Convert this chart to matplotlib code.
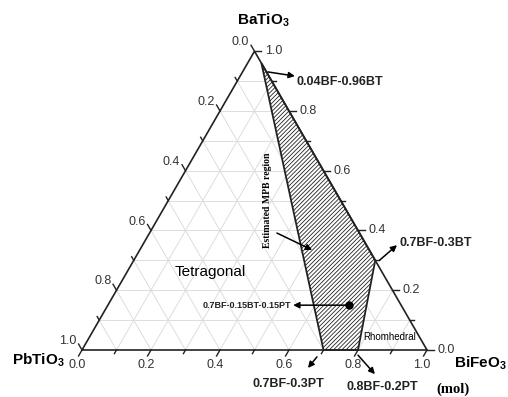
import numpy as np
import matplotlib
matplotlib.use("Agg")
import matplotlib.pyplot as plt
from matplotlib.patches import Polygon

plt.rcParams['font.family'] = ['Liberation Sans', 'DejaVu Sans']
plt.rcParams['mathtext.fontset'] = 'custom'
plt.rcParams['mathtext.rm'] = 'Liberation Sans'
plt.rcParams['mathtext.bf'] = 'Liberation Sans:bold'
plt.rcParams['hatch.linewidth'] = 0.6

# compositions as (BiFeO3, BaTiO3) mole fractions, PbTiO3 is the rest
mpb_bf = [0.04, 0.70, 0.80, 0.70]
mpb_bt = [0.96, 0.00, 0.00, 0.30]
dot_bf, dot_bt = 0.70, 0.15

tick_vals = [0.0, 0.2, 0.4, 0.6, 0.8, 1.0]
tick_labels = ['0.0', '0.2', '0.4', '0.6', '0.8', '1.0']

H = np.sqrt(3) / 2


# ternary (BF, BT) -> cartesian, PT corner at origin, BF corner at (1, 0)
def tern(bf, bt):
    bf = np.asarray(bf, float)
    bt = np.asarray(bt, float)
    return bf + bt / 2, bt * H


fig = plt.figure(figsize=(5.08, 3.97), dpi=100)
ax = fig.add_axes([0, 0, 1, 1])
ax.set_xlim(-82 / 345, (508 - 82) / 345)
ax.set_ylim(-47 / 345, 350 / 345)
ax.set_aspect('equal')
ax.axis('off')

# grid every 0.1
gc = '#dddddd'
for v in np.arange(0.1, 1.0, 0.1):
    # constant BaTiO3
    x, y = tern([0, 1 - v], [v, v])
    ax.plot(x, y, color=gc, lw=0.7, zorder=1)
    # constant BiFeO3
    x, y = tern([v, v], [0, 1 - v])
    ax.plot(x, y, color=gc, lw=0.7, zorder=1)
    # constant PbTiO3
    x, y = tern([1 - v, 0], [0, 1 - v])
    ax.plot(x, y, color=gc, lw=0.7, zorder=1)

# estimated MPB region
px, py = tern(mpb_bf, mpb_bt)
poly = Polygon(np.column_stack([px, py]), closed=True, facecolor='white',
               edgecolor='#222222', hatch='////////', lw=1.3, zorder=2)
ax.add_patch(poly)

# triangle frame
x, y = tern([0, 1, 0, 0], [0, 0, 1, 0])
ax.plot(x, y, color='#222222', lw=1.2, zorder=3, solid_joinstyle='miter')

# ticks and tick labels on the three sides
tc = '#333333'
bdir = np.array([-0.5, -H])
rdir = np.array([1.0, 0.0])
ldir = np.array([-0.5, H])
for i in range(11):
    v = i / 10
    L = 0.02 if i % 2 == 0 else 0.012
    # bottom: BiFeO3
    p = np.array(tern(v, 0))
    q = p + bdir * L
    ax.plot([p[0], q[0]], [p[1], q[1]], color='#222222', lw=1, zorder=3)
    # right: BaTiO3
    p = np.array(tern(1 - v, v))
    q = p + rdir * L
    ax.plot([p[0], q[0]], [p[1], q[1]], color='#222222', lw=1, zorder=3)
    # left: PbTiO3
    p = np.array(tern(0, 1 - v))
    q = p + ldir * L
    ax.plot([p[0], q[0]], [p[1], q[1]], color='#222222', lw=1, zorder=3)

for v, lab in zip(tick_vals, tick_labels):
    p = np.array(tern(v, 0)) + np.array([-0.015, -0.044])
    ax.text(p[0], p[1], lab, ha='center', va='center', fontsize=9, color=tc)
    p = np.array(tern(1 - v, v)) + rdir * 0.03
    ax.text(p[0], p[1], lab, ha='left', va='center', fontsize=9, color=tc)
    p = np.array(tern(0, 1 - v)) + ldir * 0.03
    ax.text(p[0], p[1], lab, ha='right', va='center', fontsize=9, color=tc)

# corner labels
ax.text(0.525, 0.957, r'BaTiO$_{\mathbf{3}}$', ha='center', va='center',
        fontsize=11, fontweight='bold')
ax.text(-0.203, -0.029, r'PbTiO$_{\mathbf{3}}$', ha='left', va='center',
        fontsize=11, fontweight='bold')
ax.text(1.078, -0.038, r'BiFeO$_{\mathbf{3}}$', ha='left', va='center',
        fontsize=11, fontweight='bold')
ax.text(1.075, -0.114, '(mol)', ha='center', va='center', fontsize=10.5,
        fontweight='bold', family='Liberation Serif')

# phase labels
ax.text(0.371, 0.226, 'Tetragonal', ha='center', va='center', fontsize=11)
ax.text(0.893, 0.038, 'Rhomhedral', ha='center', va='center', fontsize=7)
ax.text(0.539, 0.435, 'Estimated MPB region', ha='center', va='center',
        rotation=90, fontsize=7, fontweight='bold', family='Liberation Serif')

# composition point inside the MPB region
dx, dy = tern(dot_bf, dot_bt)
ax.plot(dx, dy, 'o', color='k', ms=5, zorder=4)

ap = dict(arrowstyle='-|>', color='k', lw=1.1, mutation_scale=9,
          shrinkA=0, shrinkB=0)

# 0.04BF-0.96BT
ax.annotate('', xy=(0.617, 0.794), xytext=(0.539, 0.806), arrowprops=ap)
ax.text(0.623, 0.777, '0.04BF-0.96BT', ha='left', va='center', fontsize=9,
        fontweight='bold', color='#222222')

# MPB region pointer
ax.annotate('', xy=(0.667, 0.290), xytext=(0.565, 0.339), arrowprops=ap)

# 0.7BF-0.3BT
vx, vy = tern(mpb_bf[3], mpb_bt[3])
ax.annotate('', xy=(0.913, 0.304), xytext=(vx + 0.012, vy), arrowprops=ap)
ax.text(0.919, 0.310, '0.7BF-0.3BT', ha='left', va='center', fontsize=9,
        fontweight='bold', color='#222222')

# 0.7BF-0.15BT-0.15PT
ax.annotate('', xy=(0.612, dy), xytext=(dx, dy), arrowprops=ap)
ax.text(0.606, dy, '0.7BF-0.15BT-0.15PT', ha='right', va='center',
        fontsize=6.5, fontweight='bold', color='#222222')

# 0.7BF-0.3PT
ax.annotate('', xy=(0.655, -0.052), xytext=(0.681, -0.020), arrowprops=ap)
ax.text(0.597, -0.099, '0.7BF-0.3PT', ha='center', va='center', fontsize=9,
        fontweight='bold', color='#222222')

# 0.8BF-0.2PT
ax.annotate('', xy=(0.849, -0.070), xytext=(0.800, -0.015), arrowprops=ap)
ax.text(0.870, -0.107, '0.8BF-0.2PT', ha='center', va='center', fontsize=9,
        fontweight='bold', color='#222222')

fig.savefig('out.png', dpi=100)
